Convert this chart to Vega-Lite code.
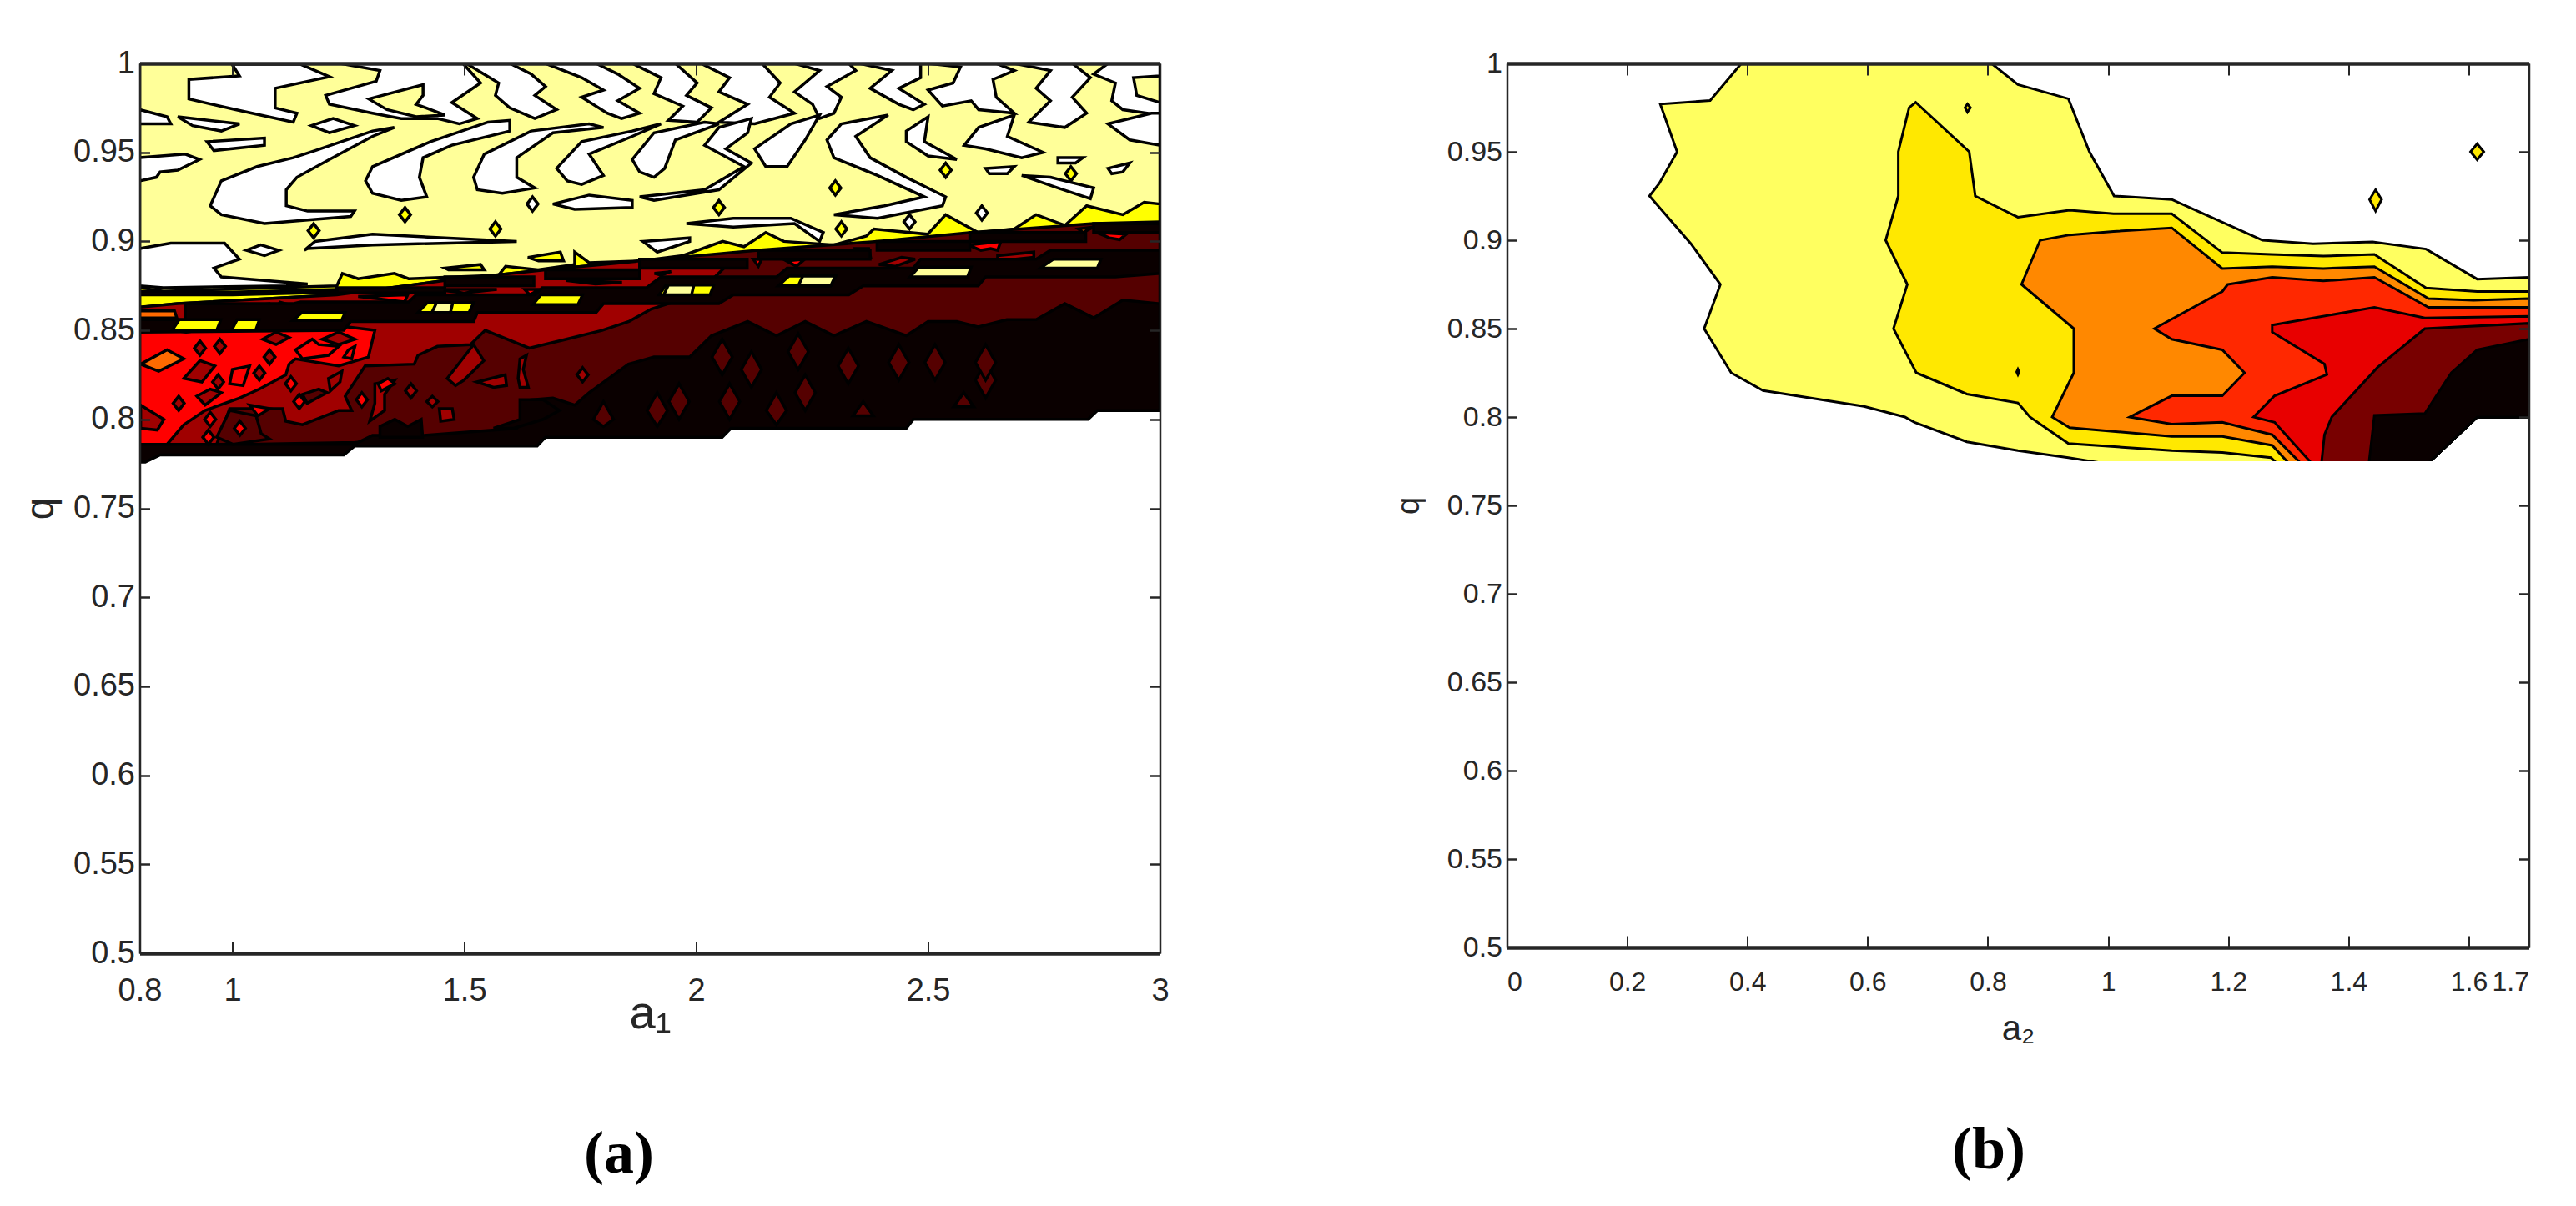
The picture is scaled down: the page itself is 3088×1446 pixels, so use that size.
{
"$schema":"https://vega.github.io/schema/vega-lite/v6.json",
"background":"white",
"padding":{"left":25.5,"top":57,"right":0,"bottom":20},
"spacing":268,
"resolve":{"scale":{"fill":"independent"}},
"config":{"view":{"stroke":null},"axis":{"grid":false,"domainColor":"#262626","tickColor":"#262626","labelColor":"#262626","titleColor":"#262626","labelFont":"Liberation Sans","titleFont":"Liberation Sans","titleFontWeight":"normal"},"title":{"font":"Liberation Serif","fontWeight":"bold","color":"#000000"}},
"datasets":{
"mask":[{"p":1,"a":0,"q":0.5},{"p":1,"a":1.7,"q":0.5},{"p":1,"a":1.7,"q":0.775},{"p":1,"a":0,"q":0.775}],
"pb":[
{"p":1,"l":1,"a":0.39,"q":1},{"p":1,"l":1,"a":0.338,"q":0.979},{"p":1,"l":1,"a":0.255,"q":0.977},{"p":1,"l":1,"a":0.283,"q":0.95},{"p":1,"l":1,"a":0.253,"q":0.932},{"p":1,"l":1,"a":0.237,"q":0.925},{"p":1,"l":1,"a":0.306,"q":0.898},{"p":1,"l":1,"a":0.355,"q":0.875},{"p":1,"l":1,"a":0.328,"q":0.85},{"p":1,"l":1,"a":0.373,"q":0.825},{"p":1,"l":1,"a":0.426,"q":0.815},{"p":1,"l":1,"a":0.594,"q":0.806},{"p":1,"l":1,"a":0.662,"q":0.8},{"p":1,"l":1,"a":0.678,"q":0.797},{"p":1,"l":1,"a":0.765,"q":0.786},{"p":1,"l":1,"a":0.85,"q":0.781},{"p":1,"l":1,"a":0.934,"q":0.777},{"p":1,"l":1,"a":0.99,"q":0.774},{"p":1,"l":1,"a":1.533,"q":0.774},{"p":1,"l":1,"a":1.614,"q":0.8},{"p":1,"l":1,"a":1.7,"q":0.8},{"p":1,"l":1,"a":1.7,"q":0.879},{"p":1,"l":1,"a":1.614,"q":0.878},{"p":1,"l":1,"a":1.529,"q":0.895},{"p":1,"l":1,"a":1.44,"q":0.899},{"p":1,"l":1,"a":1.341,"q":0.898},{"p":1,"l":1,"a":1.257,"q":0.9},{"p":1,"l":1,"a":1.106,"q":0.923},{"p":1,"l":1,"a":1.01,"q":0.925},{"p":1,"l":1,"a":0.969,"q":0.95},{"p":1,"l":1,"a":0.934,"q":0.98},{"p":1,"l":1,"a":0.85,"q":0.988},{"p":1,"l":1,"a":0.806,"q":1},
{"p":2,"l":2,"a":0.68,"q":0.978},{"p":2,"l":2,"a":0.669,"q":0.975},{"p":2,"l":2,"a":0.651,"q":0.95},{"p":2,"l":2,"a":0.651,"q":0.925},{"p":2,"l":2,"a":0.63,"q":0.9},{"p":2,"l":2,"a":0.666,"q":0.875},{"p":2,"l":2,"a":0.643,"q":0.85},{"p":2,"l":2,"a":0.681,"q":0.825},{"p":2,"l":2,"a":0.765,"q":0.813},{"p":2,"l":2,"a":0.85,"q":0.808},{"p":2,"l":2,"a":0.87,"q":0.8},{"p":2,"l":2,"a":0.934,"q":0.785},{"p":2,"l":2,"a":1.106,"q":0.781},{"p":2,"l":2,"a":1.19,"q":0.78},{"p":2,"l":2,"a":1.271,"q":0.777},{"p":2,"l":2,"a":1.28,"q":0.774},{"p":2,"l":2,"a":1.533,"q":0.774},{"p":2,"l":2,"a":1.614,"q":0.8},{"p":2,"l":2,"a":1.7,"q":0.8},{"p":2,"l":2,"a":1.7,"q":0.871},{"p":2,"l":2,"a":1.614,"q":0.871},{"p":2,"l":2,"a":1.529,"q":0.873},{"p":2,"l":2,"a":1.443,"q":0.892},{"p":2,"l":2,"a":1.358,"q":0.891},{"p":2,"l":2,"a":1.271,"q":0.892},{"p":2,"l":2,"a":1.19,"q":0.893},{"p":2,"l":2,"a":1.106,"q":0.915},{"p":2,"l":2,"a":1.009,"q":0.915},{"p":2,"l":2,"a":0.936,"q":0.917},{"p":2,"l":2,"a":0.85,"q":0.913},{"p":2,"l":2,"a":0.779,"q":0.925},{"p":2,"l":2,"a":0.769,"q":0.95},
{"p":3,"l":3,"a":0.887,"q":0.9},{"p":3,"l":3,"a":0.856,"q":0.875},{"p":3,"l":3,"a":0.943,"q":0.85},{"p":3,"l":3,"a":0.943,"q":0.825},{"p":3,"l":3,"a":0.907,"q":0.8},{"p":3,"l":3,"a":0.936,"q":0.794},{"p":3,"l":3,"a":1.106,"q":0.789},{"p":3,"l":3,"a":1.19,"q":0.789},{"p":3,"l":3,"a":1.273,"q":0.784},{"p":3,"l":3,"a":1.3,"q":0.774},{"p":3,"l":3,"a":1.533,"q":0.774},{"p":3,"l":3,"a":1.614,"q":0.8},{"p":3,"l":3,"a":1.7,"q":0.8},{"p":3,"l":3,"a":1.7,"q":0.867},{"p":3,"l":3,"a":1.608,"q":0.866},{"p":3,"l":3,"a":1.533,"q":0.867},{"p":3,"l":3,"a":1.443,"q":0.885},{"p":3,"l":3,"a":1.358,"q":0.884},{"p":3,"l":3,"a":1.273,"q":0.885},{"p":3,"l":3,"a":1.19,"q":0.884},{"p":3,"l":3,"a":1.106,"q":0.907},{"p":3,"l":3,"a":1.009,"q":0.905},{"p":3,"l":3,"a":0.936,"q":0.903},
{"p":4,"l":4,"a":1.199,"q":0.875},{"p":4,"l":4,"a":1.273,"q":0.879},{"p":4,"l":4,"a":1.358,"q":0.877},{"p":4,"l":4,"a":1.443,"q":0.879},{"p":4,"l":4,"a":1.533,"q":0.862},{"p":4,"l":4,"a":1.608,"q":0.862},{"p":4,"l":4,"a":1.7,"q":0.862},{"p":4,"l":4,"a":1.7,"q":0.8},{"p":4,"l":4,"a":1.614,"q":0.8},{"p":4,"l":4,"a":1.533,"q":0.774},{"p":4,"l":4,"a":1.32,"q":0.774},{"p":4,"l":4,"a":1.273,"q":0.79},{"p":4,"l":4,"a":1.19,"q":0.797},{"p":4,"l":4,"a":1.106,"q":0.796},{"p":4,"l":4,"a":1.036,"q":0.8},{"p":4,"l":4,"a":1.106,"q":0.812},{"p":4,"l":4,"a":1.19,"q":0.812},{"p":4,"l":4,"a":1.227,"q":0.825},{"p":4,"l":4,"a":1.19,"q":0.838},{"p":4,"l":4,"a":1.106,"q":0.844},{"p":4,"l":4,"a":1.077,"q":0.85},{"p":4,"l":4,"a":1.19,"q":0.871},
{"p":5,"l":5,"a":1.273,"q":0.852},{"p":5,"l":5,"a":1.443,"q":0.862},{"p":5,"l":5,"a":1.527,"q":0.856},{"p":5,"l":5,"a":1.7,"q":0.857},{"p":5,"l":5,"a":1.7,"q":0.8},{"p":5,"l":5,"a":1.614,"q":0.8},{"p":5,"l":5,"a":1.533,"q":0.774},{"p":5,"l":5,"a":1.338,"q":0.774},{"p":5,"l":5,"a":1.277,"q":0.797},{"p":5,"l":5,"a":1.242,"q":0.8},{"p":5,"l":5,"a":1.277,"q":0.812},{"p":5,"l":5,"a":1.364,"q":0.824},{"p":5,"l":5,"a":1.36,"q":0.83},{"p":5,"l":5,"a":1.273,"q":0.848},
{"p":6,"l":6,"a":1.527,"q":0.85},{"p":6,"l":6,"a":1.7,"q":0.853},{"p":6,"l":6,"a":1.7,"q":0.8},{"p":6,"l":6,"a":1.614,"q":0.8},{"p":6,"l":6,"a":1.533,"q":0.774},{"p":6,"l":6,"a":1.355,"q":0.774},{"p":6,"l":6,"a":1.36,"q":0.79},{"p":6,"l":6,"a":1.372,"q":0.8},{"p":6,"l":6,"a":1.448,"q":0.828},
{"p":7,"l":7,"a":1.7,"q":0.844},{"p":7,"l":7,"a":1.614,"q":0.838},{"p":7,"l":7,"a":1.571,"q":0.825},{"p":7,"l":7,"a":1.527,"q":0.802},{"p":7,"l":7,"a":1.443,"q":0.801},{"p":7,"l":7,"a":1.434,"q":0.774},{"p":7,"l":7,"a":1.533,"q":0.774},{"p":7,"l":7,"a":1.614,"q":0.8},{"p":7,"l":7,"a":1.7,"q":0.8},
{"p":8,"l":2,"a":1.603,"q":0.95},{"p":8,"l":2,"a":1.614,"q":0.9545},{"p":8,"l":2,"a":1.625,"q":0.95},{"p":8,"l":2,"a":1.614,"q":0.9455},
{"p":9,"l":2,"a":1.435,"q":0.923},{"p":9,"l":2,"a":1.445,"q":0.9285},{"p":9,"l":2,"a":1.455,"q":0.923},{"p":9,"l":2,"a":1.445,"q":0.9165},
{"p":10,"l":2,"a":0.762,"q":0.975},{"p":10,"l":2,"a":0.766,"q":0.977},{"p":10,"l":2,"a":0.771,"q":0.975},{"p":10,"l":2,"a":0.766,"q":0.9725},
{"p":11,"l":2,"a":0.848,"q":0.8255},{"p":11,"l":2,"a":0.85,"q":0.827},{"p":11,"l":2,"a":0.852,"q":0.8255},{"p":11,"l":2,"a":0.85,"q":0.824}
],
"pa":[
{"p":1,"l":2,"a":0.8,"q":0.84},{"p":1,"l":2,"a":3,"q":0.84},{"p":1,"l":2,"a":3,"q":1},{"p":1,"l":2,"a":0.8,"q":1},
{"p":2,"l":1,"a":0.999,"q":0.9995},{"p":2,"l":1,"a":1.147,"q":0.9995},{"p":2,"l":1,"a":1.209,"q":0.9925},{"p":2,"l":1,"a":1.092,"q":0.986},{"p":2,"l":1,"a":1.092,"q":0.975},{"p":2,"l":1,"a":1.139,"q":0.972},{"p":2,"l":1,"a":1.131,"q":0.967},{"p":2,"l":1,"a":1.007,"q":0.974},{"p":2,"l":1,"a":0.906,"q":0.98},{"p":2,"l":1,"a":0.906,"q":0.991},{"p":2,"l":1,"a":1.015,"q":0.993},
{"p":3,"l":1,"a":1.232,"q":1},{"p":3,"l":1,"a":1.318,"q":0.996},{"p":3,"l":1,"a":1.31,"q":0.99},{"p":3,"l":1,"a":1.201,"q":0.982},{"p":3,"l":1,"a":1.209,"q":0.977},{"p":3,"l":1,"a":1.302,"q":0.972},{"p":3,"l":1,"a":1.364,"q":0.969},{"p":3,"l":1,"a":1.442,"q":0.969},{"p":3,"l":1,"a":1.489,"q":0.966},{"p":3,"l":1,"a":1.528,"q":0.969},{"p":3,"l":1,"a":1.473,"q":0.978},{"p":3,"l":1,"a":1.535,"q":0.989},{"p":3,"l":1,"a":1.497,"q":1},
{"p":4,"l":2,"a":1.294,"q":0.98},{"p":4,"l":2,"a":1.411,"q":0.988},{"p":4,"l":2,"a":1.411,"q":0.982},{"p":4,"l":2,"a":1.396,"q":0.977},{"p":4,"l":2,"a":1.458,"q":0.971},{"p":4,"l":2,"a":1.396,"q":0.97},{"p":4,"l":2,"a":1.333,"q":0.974},
{"p":5,"l":1,"a":1.504,"q":1},{"p":5,"l":1,"a":1.574,"q":0.989},{"p":5,"l":1,"a":1.567,"q":0.982},{"p":5,"l":1,"a":1.598,"q":0.975},{"p":5,"l":1,"a":1.652,"q":0.969},{"p":5,"l":1,"a":1.699,"q":0.974},{"p":5,"l":1,"a":1.652,"q":0.982},{"p":5,"l":1,"a":1.675,"q":0.987},{"p":5,"l":1,"a":1.644,"q":0.994},{"p":5,"l":1,"a":1.598,"q":1},
{"p":6,"l":1,"a":1.675,"q":1},{"p":6,"l":1,"a":1.753,"q":0.992},{"p":6,"l":1,"a":1.8,"q":0.985},{"p":6,"l":1,"a":1.753,"q":0.981},{"p":6,"l":1,"a":1.808,"q":0.972},{"p":6,"l":1,"a":1.839,"q":0.969},{"p":6,"l":1,"a":1.878,"q":0.972},{"p":6,"l":1,"a":1.831,"q":0.979},{"p":6,"l":1,"a":1.878,"q":0.986},{"p":6,"l":1,"a":1.831,"q":0.994},{"p":6,"l":1,"a":1.784,"q":1},
{"p":7,"l":1,"a":1.862,"q":1},{"p":7,"l":1,"a":1.924,"q":0.992},{"p":7,"l":1,"a":1.909,"q":0.983},{"p":7,"l":1,"a":1.971,"q":0.976},{"p":7,"l":1,"a":1.94,"q":0.968},{"p":7,"l":1,"a":2.002,"q":0.967},{"p":7,"l":1,"a":2.033,"q":0.975},{"p":7,"l":1,"a":1.979,"q":0.982},{"p":7,"l":1,"a":2.002,"q":0.989},{"p":7,"l":1,"a":1.955,"q":1},
{"p":8,"l":1,"a":2.01,"q":1},{"p":8,"l":1,"a":2.072,"q":0.992},{"p":8,"l":1,"a":2.049,"q":0.984},{"p":8,"l":1,"a":2.111,"q":0.977},{"p":8,"l":1,"a":2.049,"q":0.967},{"p":8,"l":1,"a":2.126,"q":0.966},{"p":8,"l":1,"a":2.212,"q":0.972},{"p":8,"l":1,"a":2.158,"q":0.981},{"p":8,"l":1,"a":2.181,"q":0.989},{"p":8,"l":1,"a":2.142,"q":1},
{"p":9,"l":1,"a":2.212,"q":1},{"p":9,"l":1,"a":2.266,"q":0.996},{"p":9,"l":1,"a":2.212,"q":0.984},{"p":9,"l":1,"a":2.251,"q":0.977},{"p":9,"l":1,"a":2.266,"q":0.969},{"p":9,"l":1,"a":2.297,"q":0.972},{"p":9,"l":1,"a":2.313,"q":0.981},{"p":9,"l":1,"a":2.282,"q":0.987},{"p":9,"l":1,"a":2.344,"q":0.996},{"p":9,"l":1,"a":2.329,"q":1},
{"p":10,"l":1,"a":2.352,"q":1},{"p":10,"l":1,"a":2.422,"q":0.996},{"p":10,"l":1,"a":2.375,"q":0.986},{"p":10,"l":1,"a":2.437,"q":0.977},{"p":10,"l":1,"a":2.468,"q":0.974},{"p":10,"l":1,"a":2.492,"q":0.977},{"p":10,"l":1,"a":2.437,"q":0.986},{"p":10,"l":1,"a":2.484,"q":0.992},{"p":10,"l":1,"a":2.484,"q":1},
{"p":11,"l":1,"a":2.5,"q":1},{"p":11,"l":1,"a":2.57,"q":0.998},{"p":11,"l":1,"a":2.554,"q":0.989},{"p":11,"l":1,"a":2.5,"q":0.985},{"p":11,"l":1,"a":2.531,"q":0.976},{"p":11,"l":1,"a":2.593,"q":0.979},{"p":11,"l":1,"a":2.609,"q":0.974},{"p":11,"l":1,"a":2.686,"q":0.972},{"p":11,"l":1,"a":2.647,"q":0.981},{"p":11,"l":1,"a":2.64,"q":0.991},{"p":11,"l":1,"a":2.686,"q":0.996},{"p":11,"l":1,"a":2.647,"q":1},
{"p":12,"l":1,"a":2.686,"q":1},{"p":12,"l":1,"a":2.764,"q":0.996},{"p":12,"l":1,"a":2.733,"q":0.986},{"p":12,"l":1,"a":2.764,"q":0.979},{"p":12,"l":1,"a":2.717,"q":0.967},{"p":12,"l":1,"a":2.795,"q":0.964},{"p":12,"l":1,"a":2.842,"q":0.972},{"p":12,"l":1,"a":2.811,"q":0.981},{"p":12,"l":1,"a":2.85,"q":0.992},{"p":12,"l":1,"a":2.811,"q":1},
{"p":13,"l":1,"a":2.888,"q":1},{"p":13,"l":1,"a":2.857,"q":0.994},{"p":13,"l":1,"a":2.904,"q":0.989},{"p":13,"l":1,"a":2.896,"q":0.979},{"p":13,"l":1,"a":2.92,"q":0.974},{"p":13,"l":1,"a":3,"q":0.971},{"p":13,"l":1,"a":3,"q":0.978},{"p":13,"l":1,"a":2.95,"q":0.982},{"p":13,"l":1,"a":2.943,"q":0.992},{"p":13,"l":1,"a":3,"q":0.993},{"p":13,"l":1,"a":3,"q":1},
{"p":14,"l":1,"a":0.952,"q":0.92},{"p":14,"l":1,"a":0.976,"q":0.934},{"p":14,"l":1,"a":1.053,"q":0.942},{"p":14,"l":1,"a":1.131,"q":0.947},{"p":14,"l":1,"a":1.178,"q":0.951},{"p":14,"l":1,"a":1.302,"q":0.962},{"p":14,"l":1,"a":1.349,"q":0.964},{"p":14,"l":1,"a":1.302,"q":0.959},{"p":14,"l":1,"a":1.209,"q":0.946},{"p":14,"l":1,"a":1.139,"q":0.936},{"p":14,"l":1,"a":1.116,"q":0.929},{"p":14,"l":1,"a":1.116,"q":0.92},{"p":14,"l":1,"a":1.162,"q":0.917},{"p":14,"l":1,"a":1.263,"q":0.917},{"p":14,"l":1,"a":1.255,"q":0.914},{"p":14,"l":1,"a":1.069,"q":0.91},{"p":14,"l":1,"a":0.976,"q":0.915},
{"p":15,"l":1,"a":1.287,"q":0.934},{"p":15,"l":1,"a":1.302,"q":0.942},{"p":15,"l":1,"a":1.427,"q":0.956},{"p":15,"l":1,"a":1.551,"q":0.967},{"p":15,"l":1,"a":1.598,"q":0.968},{"p":15,"l":1,"a":1.598,"q":0.962},{"p":15,"l":1,"a":1.473,"q":0.954},{"p":15,"l":1,"a":1.411,"q":0.947},{"p":15,"l":1,"a":1.403,"q":0.936},{"p":15,"l":1,"a":1.419,"q":0.925},{"p":15,"l":1,"a":1.364,"q":0.923},{"p":15,"l":1,"a":1.302,"q":0.927},
{"p":16,"l":1,"a":1.52,"q":0.936},{"p":16,"l":1,"a":1.543,"q":0.949},{"p":16,"l":1,"a":1.644,"q":0.962},{"p":16,"l":1,"a":1.769,"q":0.966},{"p":16,"l":1,"a":1.8,"q":0.964},{"p":16,"l":1,"a":1.691,"q":0.961},{"p":16,"l":1,"a":1.613,"q":0.947},{"p":16,"l":1,"a":1.613,"q":0.936},{"p":16,"l":1,"a":1.652,"q":0.93},{"p":16,"l":1,"a":1.582,"q":0.927},{"p":16,"l":1,"a":1.528,"q":0.929},
{"p":17,"l":1,"a":1.699,"q":0.941},{"p":17,"l":1,"a":1.753,"q":0.956},{"p":17,"l":1,"a":1.862,"q":0.962},{"p":17,"l":1,"a":1.924,"q":0.966},{"p":17,"l":1,"a":1.862,"q":0.959},{"p":17,"l":1,"a":1.769,"q":0.949},{"p":17,"l":1,"a":1.8,"q":0.937},{"p":17,"l":1,"a":1.753,"q":0.932},{"p":17,"l":1,"a":1.722,"q":0.934},
{"p":18,"l":1,"a":1.862,"q":0.946},{"p":18,"l":1,"a":1.909,"q":0.961},{"p":18,"l":1,"a":2.018,"q":0.967},{"p":18,"l":1,"a":2.049,"q":0.966},{"p":18,"l":1,"a":1.955,"q":0.957},{"p":18,"l":1,"a":1.932,"q":0.941},{"p":18,"l":1,"a":1.909,"q":0.936},{"p":18,"l":1,"a":1.878,"q":0.939},
{"p":19,"l":1,"a":1.878,"q":0.925},{"p":19,"l":1,"a":2.018,"q":0.929},{"p":19,"l":1,"a":2.103,"q":0.942},{"p":19,"l":1,"a":2.018,"q":0.954},{"p":19,"l":1,"a":2.049,"q":0.964},{"p":19,"l":1,"a":2.119,"q":0.969},{"p":19,"l":1,"a":2.111,"q":0.961},{"p":19,"l":1,"a":2.064,"q":0.952},{"p":19,"l":1,"a":2.119,"q":0.944},{"p":19,"l":1,"a":2.049,"q":0.929},{"p":19,"l":1,"a":1.909,"q":0.923},
{"p":20,"l":1,"a":2.126,"q":0.952},{"p":20,"l":1,"a":2.204,"q":0.966},{"p":20,"l":1,"a":2.266,"q":0.971},{"p":20,"l":1,"a":2.235,"q":0.957},{"p":20,"l":1,"a":2.196,"q":0.942},{"p":20,"l":1,"a":2.15,"q":0.942},
{"p":21,"l":1,"a":2.282,"q":0.957},{"p":21,"l":1,"a":2.313,"q":0.966},{"p":21,"l":1,"a":2.414,"q":0.971},{"p":21,"l":1,"a":2.344,"q":0.959},{"p":21,"l":1,"a":2.375,"q":0.947},{"p":21,"l":1,"a":2.453,"q":0.936},{"p":21,"l":1,"a":2.538,"q":0.925},{"p":21,"l":1,"a":2.531,"q":0.92},{"p":21,"l":1,"a":2.391,"q":0.913},{"p":21,"l":1,"a":2.297,"q":0.915},{"p":21,"l":1,"a":2.406,"q":0.92},{"p":21,"l":1,"a":2.492,"q":0.925},{"p":21,"l":1,"a":2.391,"q":0.937},{"p":21,"l":1,"a":2.297,"q":0.947},
{"p":22,"l":1,"a":2.453,"q":0.962},{"p":22,"l":1,"a":2.5,"q":0.97},{"p":22,"l":1,"a":2.492,"q":0.956},{"p":22,"l":1,"a":2.562,"q":0.946},{"p":22,"l":1,"a":2.5,"q":0.948},{"p":22,"l":1,"a":2.453,"q":0.956},
{"p":23,"l":1,"a":2.578,"q":0.954},{"p":23,"l":1,"a":2.609,"q":0.964},{"p":23,"l":1,"a":2.686,"q":0.971},{"p":23,"l":1,"a":2.671,"q":0.959},{"p":23,"l":1,"a":2.748,"q":0.95},{"p":23,"l":1,"a":2.702,"q":0.947},{"p":23,"l":1,"a":2.624,"q":0.952},
{"p":24,"l":1,"a":2.888,"q":0.966},{"p":24,"l":1,"a":2.982,"q":0.972},{"p":24,"l":1,"a":3,"q":0.972},{"p":24,"l":1,"a":3,"q":0.954},{"p":24,"l":1,"a":2.935,"q":0.957},
{"p":25,"l":1,"a":1.155,"q":0.895},{"p":25,"l":1,"a":1.178,"q":0.9},{"p":25,"l":1,"a":1.302,"q":0.904},{"p":25,"l":1,"a":1.613,"q":0.9},{"p":25,"l":1,"a":1.302,"q":0.898},{"p":25,"l":1,"a":1.162,"q":0.896},
{"p":26,"l":1,"a":0.8,"q":0.896},{"p":26,"l":1,"a":0.867,"q":0.899},{"p":26,"l":1,"a":0.983,"q":0.899},{"p":26,"l":1,"a":1.015,"q":0.89},{"p":26,"l":1,"a":0.96,"q":0.885},{"p":26,"l":1,"a":0.976,"q":0.88},{"p":26,"l":1,"a":1.162,"q":0.876},{"p":26,"l":1,"a":1.116,"q":0.875},{"p":26,"l":1,"a":0.851,"q":0.874},{"p":26,"l":1,"a":0.8,"q":0.875},
{"p":27,"l":1,"a":0.8,"q":0.974},{"p":27,"l":1,"a":0.859,"q":0.97},{"p":27,"l":1,"a":0.867,"q":0.966},{"p":27,"l":1,"a":0.8,"q":0.966},
{"p":28,"l":1,"a":0.8,"q":0.947},{"p":28,"l":1,"a":0.898,"q":0.949},{"p":28,"l":1,"a":0.929,"q":0.946},{"p":28,"l":1,"a":0.882,"q":0.94},{"p":28,"l":1,"a":0.844,"q":0.939},{"p":28,"l":1,"a":0.836,"q":0.936},{"p":28,"l":1,"a":0.8,"q":0.934},
{"p":29,"l":1,"a":0.882,"q":0.97},{"p":29,"l":1,"a":1.015,"q":0.966},{"p":29,"l":1,"a":0.976,"q":0.962},{"p":29,"l":1,"a":0.914,"q":0.965},
{"p":30,"l":1,"a":1.17,"q":0.965},{"p":30,"l":1,"a":1.217,"q":0.969},{"p":30,"l":1,"a":1.263,"q":0.965},{"p":30,"l":1,"a":1.209,"q":0.961},
{"p":31,"l":1,"a":0.945,"q":0.956},{"p":31,"l":1,"a":1.069,"q":0.958},{"p":31,"l":1,"a":1.069,"q":0.954},{"p":31,"l":1,"a":0.96,"q":0.951},
{"p":32,"l":1,"a":1.885,"q":0.9},{"p":32,"l":1,"a":1.986,"q":0.902},{"p":32,"l":1,"a":1.986,"q":0.9},{"p":32,"l":1,"a":1.916,"q":0.894},
{"p":33,"l":1,"a":1.979,"q":0.91},{"p":33,"l":1,"a":2.08,"q":0.913},{"p":33,"l":1,"a":2.204,"q":0.913},{"p":33,"l":1,"a":2.274,"q":0.905},{"p":33,"l":1,"a":2.266,"q":0.9},{"p":33,"l":1,"a":2.212,"q":0.91},{"p":33,"l":1,"a":2.08,"q":0.908},
{"p":34,"l":1,"a":1.691,"q":0.921},{"p":34,"l":1,"a":1.769,"q":0.926},{"p":34,"l":1,"a":1.862,"q":0.923},{"p":34,"l":1,"a":1.862,"q":0.919},{"p":34,"l":1,"a":1.738,"q":0.918},
{"p":35,"l":1,"a":2.702,"q":0.937},{"p":35,"l":1,"a":2.764,"q":0.936},{"p":35,"l":1,"a":2.857,"q":0.93},{"p":35,"l":1,"a":2.85,"q":0.924},{"p":35,"l":1,"a":2.78,"q":0.93},
{"p":36,"l":1,"a":2.888,"q":0.941},{"p":36,"l":1,"a":2.935,"q":0.944},{"p":36,"l":1,"a":2.92,"q":0.939},{"p":36,"l":1,"a":2.896,"q":0.938},
{"p":37,"l":1,"a":2.624,"q":0.941},{"p":37,"l":1,"a":2.686,"q":0.942},{"p":37,"l":1,"a":2.671,"q":0.938},{"p":37,"l":1,"a":2.632,"q":0.938},
{"p":38,"l":1,"a":2.78,"q":0.947},{"p":38,"l":1,"a":2.834,"q":0.947},{"p":38,"l":1,"a":2.818,"q":0.944},{"p":38,"l":1,"a":2.78,"q":0.944},
{"p":39,"l":1,"a":1.03,"q":0.895},{"p":39,"l":1,"a":1.061,"q":0.898},{"p":39,"l":1,"a":1.1,"q":0.895},{"p":39,"l":1,"a":1.069,"q":0.892},
{"p":40,"l":3,"a":1.637,"q":0.891},{"p":40,"l":3,"a":1.707,"q":0.894},{"p":40,"l":3,"a":1.714,"q":0.889},{"p":40,"l":3,"a":1.66,"q":0.889},
{"p":41,"l":3,"a":1.458,"q":0.885},{"p":41,"l":3,"a":1.535,"q":0.887},{"p":41,"l":3,"a":1.543,"q":0.884},{"p":41,"l":3,"a":1.466,"q":0.884},
{"p":42,"l":3,"a":1.36,"q":0.915},{"p":42,"l":3,"a":1.372,"q":0.919},{"p":42,"l":3,"a":1.384,"q":0.915},{"p":42,"l":3,"a":1.372,"q":0.911},
{"p":43,"l":3,"a":1.163,"q":0.906},{"p":43,"l":3,"a":1.175,"q":0.91},{"p":43,"l":3,"a":1.187,"q":0.906},{"p":43,"l":3,"a":1.175,"q":0.902},
{"p":44,"l":3,"a":1.555,"q":0.907},{"p":44,"l":3,"a":1.567,"q":0.911},{"p":44,"l":3,"a":1.579,"q":0.907},{"p":44,"l":3,"a":1.567,"q":0.903},
{"p":45,"l":3,"a":2.037,"q":0.919},{"p":45,"l":3,"a":2.049,"q":0.923},{"p":45,"l":3,"a":2.061,"q":0.919},{"p":45,"l":3,"a":2.049,"q":0.915},
{"p":46,"l":3,"a":2.526,"q":0.94},{"p":46,"l":3,"a":2.538,"q":0.944},{"p":46,"l":3,"a":2.55,"q":0.94},{"p":46,"l":3,"a":2.538,"q":0.936},
{"p":47,"l":3,"a":2.288,"q":0.93},{"p":47,"l":3,"a":2.3,"q":0.934},{"p":47,"l":3,"a":2.312,"q":0.93},{"p":47,"l":3,"a":2.3,"q":0.926},
{"p":48,"l":3,"a":2.796,"q":0.938},{"p":48,"l":3,"a":2.808,"q":0.942},{"p":48,"l":3,"a":2.82,"q":0.938},{"p":48,"l":3,"a":2.808,"q":0.934},
{"p":49,"l":3,"a":2.301,"q":0.907},{"p":49,"l":3,"a":2.313,"q":0.911},{"p":49,"l":3,"a":2.325,"q":0.907},{"p":49,"l":3,"a":2.313,"q":0.903},
{"p":50,"l":1,"a":1.635,"q":0.921},{"p":50,"l":1,"a":1.647,"q":0.925},{"p":50,"l":1,"a":1.659,"q":0.921},{"p":50,"l":1,"a":1.647,"q":0.917},
{"p":51,"l":1,"a":2.448,"q":0.911},{"p":51,"l":1,"a":2.46,"q":0.915},{"p":51,"l":1,"a":2.472,"q":0.911},{"p":51,"l":1,"a":2.46,"q":0.907},
{"p":52,"l":1,"a":2.604,"q":0.916},{"p":52,"l":1,"a":2.616,"q":0.92},{"p":52,"l":1,"a":2.628,"q":0.916},{"p":52,"l":1,"a":2.616,"q":0.912},
{"p":53,"l":3,"a":0.8,"q":0.874},{"p":53,"l":3,"a":0.851,"q":0.872},{"p":53,"l":3,"a":1.225,"q":0.875},{"p":53,"l":3,"a":1.237,"q":0.882},{"p":53,"l":3,"a":1.271,"q":0.879},{"p":53,"l":3,"a":1.349,"q":0.882},{"p":53,"l":3,"a":1.38,"q":0.879},{"p":53,"l":3,"a":1.574,"q":0.881},{"p":53,"l":3,"a":1.589,"q":0.886},{"p":53,"l":3,"a":1.659,"q":0.884},{"p":53,"l":3,"a":1.738,"q":0.887},{"p":53,"l":3,"a":1.738,"q":0.894},{"p":53,"l":3,"a":1.769,"q":0.888},{"p":53,"l":3,"a":1.878,"q":0.889},{"p":53,"l":3,"a":1.971,"q":0.892},{"p":53,"l":3,"a":2.057,"q":0.9},{"p":53,"l":3,"a":2.103,"q":0.897},{"p":53,"l":3,"a":2.15,"q":0.905},{"p":53,"l":3,"a":2.189,"q":0.9},{"p":53,"l":3,"a":2.297,"q":0.898},{"p":53,"l":3,"a":2.367,"q":0.903},{"p":53,"l":3,"a":2.383,"q":0.907},{"p":53,"l":3,"a":2.499,"q":0.904},{"p":53,"l":3,"a":2.538,"q":0.915},{"p":53,"l":3,"a":2.608,"q":0.905},{"p":53,"l":3,"a":2.686,"q":0.907},{"p":53,"l":3,"a":2.733,"q":0.915},{"p":53,"l":3,"a":2.795,"q":0.909},{"p":53,"l":3,"a":2.842,"q":0.92},{"p":53,"l":3,"a":2.92,"q":0.915},{"p":53,"l":3,"a":2.966,"q":0.922},{"p":53,"l":3,"a":3,"q":0.921},{"p":53,"l":3,"a":3,"q":0.863},{"p":53,"l":3,"a":0.8,"q":0.847},
{"p":54,"l":7,"a":0.8,"q":0.863},{"p":54,"l":7,"a":0.882,"q":0.865},{"p":54,"l":7,"a":1.225,"q":0.87},{"p":54,"l":7,"a":1.458,"q":0.878},{"p":54,"l":7,"a":1.675,"q":0.884},{"p":54,"l":7,"a":1.878,"q":0.889},{"p":54,"l":7,"a":2.134,"q":0.895},{"p":54,"l":7,"a":2.391,"q":0.9},{"p":54,"l":7,"a":2.593,"q":0.905},{"p":54,"l":7,"a":2.857,"q":0.91},{"p":54,"l":7,"a":3,"q":0.911},{"p":54,"l":7,"a":3,"q":0.806},{"p":54,"l":7,"a":2.468,"q":0.802},{"p":54,"l":7,"a":2.075,"q":0.797},{"p":54,"l":7,"a":1.675,"q":0.792},{"p":54,"l":7,"a":1.263,"q":0.787},{"p":54,"l":7,"a":0.8,"q":0.785},
{"p":55,"l":6,"a":0.8,"q":0.782},{"p":55,"l":6,"a":0.966,"q":0.786},{"p":55,"l":6,"a":0.994,"q":0.806},{"p":55,"l":6,"a":1.108,"q":0.806},{"p":55,"l":6,"a":1.115,"q":0.799},{"p":55,"l":6,"a":1.151,"q":0.797},{"p":55,"l":6,"a":1.229,"q":0.805},{"p":55,"l":6,"a":1.257,"q":0.805},{"p":55,"l":6,"a":1.243,"q":0.813},{"p":55,"l":6,"a":1.286,"q":0.83},{"p":55,"l":6,"a":1.392,"q":0.831},{"p":55,"l":6,"a":1.4,"q":0.836},{"p":55,"l":6,"a":1.442,"q":0.841},{"p":55,"l":6,"a":1.513,"q":0.842},{"p":55,"l":6,"a":1.545,"q":0.85},{"p":55,"l":6,"a":1.64,"q":0.84},{"p":55,"l":6,"a":1.72,"q":0.845},{"p":55,"l":6,"a":1.797,"q":0.85},{"p":55,"l":6,"a":1.855,"q":0.855},{"p":55,"l":6,"a":1.903,"q":0.862},{"p":55,"l":6,"a":2,"q":0.87},{"p":55,"l":6,"a":2.06,"q":0.885},{"p":55,"l":6,"a":1.878,"q":0.889},{"p":55,"l":6,"a":1.675,"q":0.884},{"p":55,"l":6,"a":1.458,"q":0.878},{"p":55,"l":6,"a":1.225,"q":0.87},{"p":55,"l":6,"a":0.882,"q":0.865},{"p":55,"l":6,"a":0.8,"q":0.863},
{"p":56,"l":5,"a":0.8,"q":0.78},{"p":56,"l":5,"a":0.859,"q":0.786},{"p":56,"l":5,"a":0.895,"q":0.797},{"p":56,"l":5,"a":0.941,"q":0.805},{"p":56,"l":5,"a":1.016,"q":0.812},{"p":56,"l":5,"a":1.058,"q":0.817},{"p":56,"l":5,"a":1.115,"q":0.825},{"p":56,"l":5,"a":1.122,"q":0.831},{"p":56,"l":5,"a":1.136,"q":0.834},{"p":56,"l":5,"a":1.229,"q":0.83},{"p":56,"l":5,"a":1.293,"q":0.835},{"p":56,"l":5,"a":1.307,"q":0.85},{"p":56,"l":5,"a":1.215,"q":0.853},{"p":56,"l":5,"a":1.1,"q":0.85},{"p":56,"l":5,"a":1,"q":0.853},{"p":56,"l":5,"a":0.9,"q":0.849},{"p":56,"l":5,"a":0.8,"q":0.853},
{"p":57,"l":8,"a":0.8,"q":0.776},{"p":57,"l":8,"a":0.8,"q":0.786},{"p":57,"l":8,"a":1.263,"q":0.786},{"p":57,"l":8,"a":1.302,"q":0.791},{"p":57,"l":8,"a":1.411,"q":0.791},{"p":57,"l":8,"a":1.613,"q":0.795},{"p":57,"l":8,"a":1.644,"q":0.811},{"p":57,"l":8,"a":1.691,"q":0.812},{"p":57,"l":8,"a":1.738,"q":0.808},{"p":57,"l":8,"a":1.769,"q":0.815},{"p":57,"l":8,"a":1.854,"q":0.831},{"p":57,"l":8,"a":1.909,"q":0.835},{"p":57,"l":8,"a":1.986,"q":0.835},{"p":57,"l":8,"a":2.033,"q":0.847},{"p":57,"l":8,"a":2.111,"q":0.855},{"p":57,"l":8,"a":2.173,"q":0.847},{"p":57,"l":8,"a":2.235,"q":0.855},{"p":57,"l":8,"a":2.297,"q":0.847},{"p":57,"l":8,"a":2.367,"q":0.855},{"p":57,"l":8,"a":2.453,"q":0.847},{"p":57,"l":8,"a":2.5,"q":0.855},{"p":57,"l":8,"a":2.562,"q":0.855},{"p":57,"l":8,"a":2.608,"q":0.852},{"p":57,"l":8,"a":2.67,"q":0.856},{"p":57,"l":8,"a":2.733,"q":0.856},{"p":57,"l":8,"a":2.795,"q":0.865},{"p":57,"l":8,"a":2.857,"q":0.857},{"p":57,"l":8,"a":2.92,"q":0.867},{"p":57,"l":8,"a":3,"q":0.865},{"p":57,"l":8,"a":3,"q":0.805},{"p":57,"l":8,"a":2.865,"q":0.805},{"p":57,"l":8,"a":2.845,"q":0.8},{"p":57,"l":8,"a":2.468,"q":0.8},{"p":57,"l":8,"a":2.453,"q":0.795},{"p":57,"l":8,"a":2.075,"q":0.795},{"p":57,"l":8,"a":2.056,"q":0.79},{"p":57,"l":8,"a":1.675,"q":0.79},{"p":57,"l":8,"a":1.657,"q":0.785},{"p":57,"l":8,"a":1.263,"q":0.785},{"p":57,"l":8,"a":1.24,"q":0.78},{"p":57,"l":8,"a":0.844,"q":0.78},{"p":57,"l":8,"a":0.812,"q":0.776},
{"p":58,"l":7,"a":2.097,"q":0.828},{"p":58,"l":7,"a":2.119,"q":0.838},{"p":58,"l":7,"a":2.141,"q":0.828},{"p":58,"l":7,"a":2.119,"q":0.818},
{"p":59,"l":7,"a":2.213,"q":0.815},{"p":59,"l":7,"a":2.235,"q":0.825},{"p":59,"l":7,"a":2.257,"q":0.815},{"p":59,"l":7,"a":2.235,"q":0.805},
{"p":60,"l":7,"a":2.306,"q":0.83},{"p":60,"l":7,"a":2.328,"q":0.84},{"p":60,"l":7,"a":2.35,"q":0.83},{"p":60,"l":7,"a":2.328,"q":0.82},
{"p":61,"l":7,"a":2.415,"q":0.832},{"p":61,"l":7,"a":2.437,"q":0.842},{"p":61,"l":7,"a":2.459,"q":0.832},{"p":61,"l":7,"a":2.437,"q":0.822},
{"p":62,"l":7,"a":2.602,"q":0.822},{"p":62,"l":7,"a":2.624,"q":0.832},{"p":62,"l":7,"a":2.646,"q":0.822},{"p":62,"l":7,"a":2.624,"q":0.812},
{"p":63,"l":7,"a":2.555,"q":0.807},{"p":63,"l":7,"a":2.577,"q":0.815},{"p":63,"l":7,"a":2.599,"q":0.807},
{"p":64,"l":7,"a":2.338,"q":0.802},{"p":64,"l":7,"a":2.36,"q":0.81},{"p":64,"l":7,"a":2.382,"q":0.802},
{"p":65,"l":7,"a":2.151,"q":0.805},{"p":65,"l":7,"a":2.173,"q":0.815},{"p":65,"l":7,"a":2.195,"q":0.805},{"p":65,"l":7,"a":2.173,"q":0.797},
{"p":66,"l":7,"a":2.05,"q":0.81},{"p":66,"l":7,"a":2.072,"q":0.82},{"p":66,"l":7,"a":2.094,"q":0.81},{"p":66,"l":7,"a":2.072,"q":0.8},
{"p":67,"l":7,"a":1.941,"q":0.81},{"p":67,"l":7,"a":1.963,"q":0.82},{"p":67,"l":7,"a":1.985,"q":0.81},{"p":67,"l":7,"a":1.963,"q":0.8},
{"p":68,"l":7,"a":1.894,"q":0.805},{"p":68,"l":7,"a":1.916,"q":0.815},{"p":68,"l":7,"a":1.938,"q":0.805},{"p":68,"l":7,"a":1.916,"q":0.796},
{"p":69,"l":7,"a":1.778,"q":0.8},{"p":69,"l":7,"a":1.8,"q":0.81},{"p":69,"l":7,"a":1.822,"q":0.8},{"p":69,"l":7,"a":1.8,"q":0.796},
{"p":70,"l":7,"a":2.602,"q":0.832},{"p":70,"l":7,"a":2.624,"q":0.842},{"p":70,"l":7,"a":2.646,"q":0.832},{"p":70,"l":7,"a":2.624,"q":0.822},
{"p":71,"l":7,"a":2.493,"q":0.832},{"p":71,"l":7,"a":2.515,"q":0.842},{"p":71,"l":7,"a":2.537,"q":0.832},{"p":71,"l":7,"a":2.515,"q":0.822},
{"p":72,"l":7,"a":2.198,"q":0.838},{"p":72,"l":7,"a":2.22,"q":0.848},{"p":72,"l":7,"a":2.242,"q":0.838},{"p":72,"l":7,"a":2.22,"q":0.828},
{"p":73,"l":7,"a":2.034,"q":0.835},{"p":73,"l":7,"a":2.056,"q":0.845},{"p":73,"l":7,"a":2.078,"q":0.835},{"p":73,"l":7,"a":2.056,"q":0.825},
{"p":74,"l":6,"a":0.895,"q":0.823},{"p":74,"l":6,"a":0.93,"q":0.833},{"p":74,"l":6,"a":0.962,"q":0.83},{"p":74,"l":6,"a":0.934,"q":0.821},
{"p":75,"l":6,"a":0.923,"q":0.813},{"p":75,"l":6,"a":0.952,"q":0.817},{"p":75,"l":6,"a":0.976,"q":0.815},{"p":75,"l":6,"a":0.941,"q":0.808},
{"p":76,"l":5,"a":1,"q":0.828},{"p":76,"l":5,"a":1.037,"q":0.83},{"p":76,"l":5,"a":1.023,"q":0.819},{"p":76,"l":5,"a":0.994,"q":0.82},
{"p":77,"l":5,"a":1.136,"q":0.839},{"p":77,"l":5,"a":1.172,"q":0.845},{"p":77,"l":5,"a":1.186,"q":0.842},{"p":77,"l":5,"a":1.229,"q":0.841},{"p":77,"l":5,"a":1.207,"q":0.836},{"p":77,"l":5,"a":1.151,"q":0.834},
{"p":78,"l":5,"a":1.25,"q":0.839},{"p":78,"l":5,"a":1.264,"q":0.841},{"p":78,"l":5,"a":1.257,"q":0.834},{"p":78,"l":5,"a":1.24,"q":0.835},
{"p":79,"l":6,"a":1.207,"q":0.823},{"p":79,"l":6,"a":1.236,"q":0.827},{"p":79,"l":6,"a":1.232,"q":0.821},{"p":79,"l":6,"a":1.211,"q":0.816},
{"p":80,"l":7,"a":1.151,"q":0.814},{"p":80,"l":7,"a":1.186,"q":0.817},{"p":80,"l":7,"a":1.204,"q":0.815},{"p":80,"l":7,"a":1.161,"q":0.809},
{"p":81,"l":6,"a":1.307,"q":0.82},{"p":81,"l":6,"a":1.35,"q":0.822},{"p":81,"l":6,"a":1.328,"q":0.814},{"p":81,"l":6,"a":1.328,"q":0.805},{"p":81,"l":6,"a":1.296,"q":0.799},{"p":81,"l":6,"a":1.307,"q":0.809},
{"p":82,"l":5,"a":1.314,"q":0.82},{"p":82,"l":5,"a":1.335,"q":0.823},{"p":82,"l":5,"a":1.35,"q":0.82},{"p":82,"l":5,"a":1.321,"q":0.816},
{"p":83,"l":6,"a":1.446,"q":0.806},{"p":83,"l":6,"a":1.474,"q":0.806},{"p":83,"l":6,"a":1.478,"q":0.8},{"p":83,"l":6,"a":1.449,"q":0.799},
{"p":84,"l":6,"a":1.463,"q":0.823},{"p":84,"l":6,"a":1.52,"q":0.842},{"p":84,"l":6,"a":1.542,"q":0.833},{"p":84,"l":6,"a":1.499,"q":0.822},{"p":84,"l":6,"a":1.481,"q":0.819},
{"p":85,"l":6,"a":1.527,"q":0.821},{"p":85,"l":6,"a":1.588,"q":0.825},{"p":85,"l":6,"a":1.591,"q":0.819},{"p":85,"l":6,"a":1.563,"q":0.818},
{"p":86,"l":6,"a":1.62,"q":0.834},{"p":86,"l":6,"a":1.634,"q":0.836},{"p":86,"l":6,"a":1.627,"q":0.828},{"p":86,"l":6,"a":1.638,"q":0.818},{"p":86,"l":6,"a":1.62,"q":0.818},{"p":86,"l":6,"a":1.616,"q":0.823},
{"p":87,"l":5,"a":1.037,"q":0.808},{"p":87,"l":5,"a":1.08,"q":0.806},{"p":87,"l":5,"a":1.055,"q":0.802},
{"p":88,"l":7,"a":0.994,"q":0.805},{"p":88,"l":7,"a":1.051,"q":0.802},{"p":88,"l":7,"a":1.062,"q":0.792},{"p":88,"l":7,"a":1.08,"q":0.789},{"p":88,"l":7,"a":1.001,"q":0.786},{"p":88,"l":7,"a":0.966,"q":0.79},
{"p":89,"l":4,"a":0.802,"q":0.831},{"p":89,"l":4,"a":0.859,"q":0.839},{"p":89,"l":4,"a":0.895,"q":0.834},{"p":89,"l":4,"a":0.841,"q":0.827},
{"p":90,"l":6,"a":0.918,"q":0.84},{"p":90,"l":6,"a":0.93,"q":0.844},{"p":90,"l":6,"a":0.942,"q":0.84},{"p":90,"l":6,"a":0.93,"q":0.836},
{"p":91,"l":6,"a":0.961,"q":0.841},{"p":91,"l":6,"a":0.973,"q":0.845},{"p":91,"l":6,"a":0.985,"q":0.841},{"p":91,"l":6,"a":0.973,"q":0.837},
{"p":92,"l":6,"a":1.068,"q":0.835},{"p":92,"l":6,"a":1.08,"q":0.839},{"p":92,"l":6,"a":1.092,"q":0.835},{"p":92,"l":6,"a":1.08,"q":0.831},
{"p":93,"l":6,"a":1.046,"q":0.826},{"p":93,"l":6,"a":1.058,"q":0.83},{"p":93,"l":6,"a":1.07,"q":0.826},{"p":93,"l":6,"a":1.058,"q":0.822},
{"p":94,"l":6,"a":0.957,"q":0.821},{"p":94,"l":6,"a":0.969,"q":0.825},{"p":94,"l":6,"a":0.981,"q":0.821},{"p":94,"l":6,"a":0.969,"q":0.817},
{"p":95,"l":6,"a":0.872,"q":0.809},{"p":95,"l":6,"a":0.884,"q":0.813},{"p":95,"l":6,"a":0.896,"q":0.809},{"p":95,"l":6,"a":0.884,"q":0.805},
{"p":96,"l":5,"a":0.94,"q":0.8},{"p":96,"l":5,"a":0.952,"q":0.804},{"p":96,"l":5,"a":0.964,"q":0.8},{"p":96,"l":5,"a":0.952,"q":0.796},
{"p":97,"l":5,"a":1.004,"q":0.795},{"p":97,"l":5,"a":1.016,"q":0.799},{"p":97,"l":5,"a":1.028,"q":0.795},{"p":97,"l":5,"a":1.016,"q":0.791},
{"p":98,"l":5,"a":0.936,"q":0.79},{"p":98,"l":5,"a":0.948,"q":0.794},{"p":98,"l":5,"a":0.96,"q":0.79},{"p":98,"l":5,"a":0.948,"q":0.786},
{"p":99,"l":5,"a":1.132,"q":0.81},{"p":99,"l":5,"a":1.144,"q":0.814},{"p":99,"l":5,"a":1.156,"q":0.81},{"p":99,"l":5,"a":1.144,"q":0.806},
{"p":100,"l":5,"a":1.267,"q":0.811},{"p":100,"l":5,"a":1.279,"q":0.815},{"p":100,"l":5,"a":1.291,"q":0.811},{"p":100,"l":5,"a":1.279,"q":0.807},
{"p":101,"l":5,"a":1.114,"q":0.82},{"p":101,"l":5,"a":1.126,"q":0.824},{"p":101,"l":5,"a":1.138,"q":0.82},{"p":101,"l":5,"a":1.126,"q":0.816},
{"p":102,"l":6,"a":1.373,"q":0.816},{"p":102,"l":6,"a":1.385,"q":0.82},{"p":102,"l":6,"a":1.397,"q":0.816},{"p":102,"l":6,"a":1.385,"q":0.812},
{"p":103,"l":6,"a":1.419,"q":0.81},{"p":103,"l":6,"a":1.431,"q":0.813},{"p":103,"l":6,"a":1.443,"q":0.81},{"p":103,"l":6,"a":1.431,"q":0.807},
{"p":104,"l":6,"a":1.743,"q":0.825},{"p":104,"l":6,"a":1.755,"q":0.829},{"p":104,"l":6,"a":1.767,"q":0.825},{"p":104,"l":6,"a":1.755,"q":0.821},
{"p":105,"l":6,"a":1.065,"q":0.845},{"p":105,"l":6,"a":1.094,"q":0.849},{"p":105,"l":6,"a":1.122,"q":0.846},{"p":105,"l":6,"a":1.094,"q":0.842},
{"p":106,"l":6,"a":1.193,"q":0.845},{"p":106,"l":6,"a":1.229,"q":0.849},{"p":106,"l":6,"a":1.264,"q":0.845},{"p":106,"l":6,"a":1.229,"q":0.842},
{"p":107,"l":5,"a":2.195,"q":0.889},{"p":107,"l":5,"a":2.234,"q":0.89},{"p":107,"l":5,"a":2.216,"q":0.886},
{"p":108,"l":5,"a":2.123,"q":0.89},{"p":108,"l":5,"a":2.141,"q":0.89},{"p":108,"l":5,"a":2.134,"q":0.886},
{"p":109,"l":5,"a":1.91,"q":0.882},{"p":109,"l":5,"a":1.946,"q":0.883},{"p":109,"l":5,"a":1.924,"q":0.881},
{"p":110,"l":5,"a":2.586,"q":0.898},{"p":110,"l":5,"a":2.657,"q":0.9},{"p":110,"l":5,"a":2.65,"q":0.895},{"p":110,"l":5,"a":2.635,"q":0.896},{"p":110,"l":5,"a":2.614,"q":0.895},
{"p":111,"l":5,"a":2.863,"q":0.905},{"p":111,"l":5,"a":2.927,"q":0.904},{"p":111,"l":5,"a":2.913,"q":0.901},{"p":111,"l":5,"a":2.891,"q":0.902},
{"p":112,"l":4,"a":2.344,"q":0.896},{"p":112,"l":4,"a":2.372,"q":0.896},{"p":112,"l":4,"a":2.376,"q":0.891},{"p":112,"l":4,"a":2.362,"q":0.891},
{"p":113,"l":4,"a":2.084,"q":0.89},{"p":113,"l":4,"a":2.106,"q":0.89},{"p":113,"l":4,"a":2.099,"q":0.886},
{"p":114,"l":4,"a":2.824,"q":0.907},{"p":114,"l":4,"a":2.856,"q":0.908},{"p":114,"l":4,"a":2.834,"q":0.905},
{"p":115,"l":4,"a":1.1,"q":0.866},{"p":115,"l":4,"a":1.144,"q":0.863},{"p":115,"l":4,"a":1.129,"q":0.859},
{"p":116,"l":5,"a":1.63,"q":0.873},{"p":116,"l":5,"a":1.663,"q":0.873},{"p":116,"l":5,"a":1.641,"q":0.87},
{"p":117,"l":5,"a":1.719,"q":0.878},{"p":117,"l":5,"a":1.84,"q":0.877},{"p":117,"l":5,"a":1.783,"q":0.876},
{"p":118,"l":5,"a":1.435,"q":0.873},{"p":118,"l":5,"a":1.57,"q":0.873},{"p":118,"l":5,"a":1.499,"q":0.871},
{"p":119,"l":5,"a":1.271,"q":0.869},{"p":119,"l":5,"a":1.378,"q":0.87},{"p":119,"l":5,"a":1.371,"q":0.866},
{"p":120,"l":5,"a":0.987,"q":0.862},{"p":120,"l":5,"a":1.08,"q":0.865},{"p":120,"l":5,"a":1.094,"q":0.861},{"p":120,"l":5,"a":1.001,"q":0.86},
{"p":121,"l":6,"a":2.394,"q":0.887},{"p":121,"l":6,"a":2.443,"q":0.891},{"p":121,"l":6,"a":2.472,"q":0.89},{"p":121,"l":6,"a":2.429,"q":0.886},
{"p":122,"l":6,"a":2.65,"q":0.892},{"p":122,"l":6,"a":2.728,"q":0.894},{"p":122,"l":6,"a":2.728,"q":0.891},{"p":122,"l":6,"a":2.65,"q":0.889},
{"p":123,"l":4,"a":0.8,"q":0.861},{"p":123,"l":4,"a":0.875,"q":0.861},{"p":123,"l":4,"a":0.88,"q":0.857},{"p":123,"l":4,"a":0.8,"q":0.857},
{"p":146,"l":6,"a":0.802,"q":0.808},{"p":146,"l":6,"a":0.852,"q":0.8},{"p":146,"l":6,"a":0.838,"q":0.794},{"p":146,"l":6,"a":0.802,"q":0.795},
{"p":147,"l":8,"a":1.62,"q":0.811},{"p":147,"l":8,"a":1.67,"q":0.811},{"p":147,"l":8,"a":1.705,"q":0.805},{"p":147,"l":8,"a":1.67,"q":0.8},{"p":147,"l":8,"a":1.606,"q":0.795},{"p":147,"l":8,"a":1.563,"q":0.795},{"p":147,"l":8,"a":1.62,"q":0.8},
{"p":148,"l":8,"a":1.318,"q":0.796},{"p":148,"l":8,"a":1.35,"q":0.8},{"p":148,"l":8,"a":1.378,"q":0.796},{"p":148,"l":8,"a":1.407,"q":0.8},{"p":148,"l":8,"a":1.41,"q":0.79},{"p":148,"l":8,"a":1.318,"q":0.79},
{"p":124,"l":8,"a":1.225,"q":0.871},{"p":124,"l":8,"a":1.458,"q":0.871},{"p":124,"l":8,"a":1.458,"q":0.874},{"p":124,"l":8,"a":1.225,"q":0.874},
{"p":125,"l":8,"a":1.458,"q":0.875},{"p":125,"l":8,"a":1.65,"q":0.875},{"p":125,"l":8,"a":1.65,"q":0.88},{"p":125,"l":8,"a":1.458,"q":0.88},
{"p":126,"l":8,"a":1.675,"q":0.879},{"p":126,"l":8,"a":1.878,"q":0.879},{"p":126,"l":8,"a":1.878,"q":0.884},{"p":126,"l":8,"a":1.675,"q":0.884},
{"p":127,"l":8,"a":1.878,"q":0.885},{"p":127,"l":8,"a":2.11,"q":0.885},{"p":127,"l":8,"a":2.11,"q":0.89},{"p":127,"l":8,"a":1.878,"q":0.89},
{"p":128,"l":8,"a":2.134,"q":0.89},{"p":128,"l":8,"a":2.375,"q":0.89},{"p":128,"l":8,"a":2.375,"q":0.895},{"p":128,"l":8,"a":2.134,"q":0.895},
{"p":129,"l":8,"a":2.39,"q":0.895},{"p":129,"l":8,"a":2.59,"q":0.895},{"p":129,"l":8,"a":2.59,"q":0.9},{"p":129,"l":8,"a":2.39,"q":0.9},
{"p":130,"l":8,"a":2.59,"q":0.9},{"p":130,"l":8,"a":2.84,"q":0.9},{"p":130,"l":8,"a":2.84,"q":0.905},{"p":130,"l":8,"a":2.59,"q":0.905},
{"p":131,"l":8,"a":2.857,"q":0.905},{"p":131,"l":8,"a":3,"q":0.905},{"p":131,"l":8,"a":3,"q":0.91},{"p":131,"l":8,"a":2.857,"q":0.91},
{"p":132,"l":8,"a":0.8,"q":0.856},{"p":132,"l":8,"a":0.898,"q":0.856},{"p":132,"l":8,"a":0.898,"q":0.865},{"p":132,"l":8,"a":1.13,"q":0.865},{"p":132,"l":8,"a":1.147,"q":0.866},{"p":132,"l":8,"a":1.38,"q":0.866},{"p":132,"l":8,"a":1.396,"q":0.87},{"p":132,"l":8,"a":1.652,"q":0.87},{"p":132,"l":8,"a":1.668,"q":0.874},{"p":132,"l":8,"a":1.893,"q":0.874},{"p":132,"l":8,"a":1.924,"q":0.88},{"p":132,"l":8,"a":2.173,"q":0.88},{"p":132,"l":8,"a":2.196,"q":0.885},{"p":132,"l":8,"a":2.468,"q":0.885},{"p":132,"l":8,"a":2.484,"q":0.89},{"p":132,"l":8,"a":2.733,"q":0.89},{"p":132,"l":8,"a":2.764,"q":0.895},{"p":132,"l":8,"a":3,"q":0.895},{"p":132,"l":8,"a":3,"q":0.882},{"p":132,"l":8,"a":2.904,"q":0.88},{"p":132,"l":8,"a":2.624,"q":0.88},{"p":132,"l":8,"a":2.608,"q":0.875},{"p":132,"l":8,"a":2.36,"q":0.875},{"p":132,"l":8,"a":2.329,"q":0.87},{"p":132,"l":8,"a":2.08,"q":0.87},{"p":132,"l":8,"a":2.049,"q":0.865},{"p":132,"l":8,"a":1.8,"q":0.865},{"p":132,"l":8,"a":1.784,"q":0.86},{"p":132,"l":8,"a":1.528,"q":0.86},{"p":132,"l":8,"a":1.52,"q":0.855},{"p":132,"l":8,"a":1.255,"q":0.855},{"p":132,"l":8,"a":1.24,"q":0.85},{"p":132,"l":8,"a":0.8,"q":0.849},
{"p":133,"l":3,"a":0.87,"q":0.85},{"p":133,"l":3,"a":0.966,"q":0.85},{"p":133,"l":3,"a":0.975,"q":0.856},{"p":133,"l":3,"a":0.885,"q":0.856},
{"p":134,"l":3,"a":0.998,"q":0.85},{"p":134,"l":3,"a":1.05,"q":0.85},{"p":134,"l":3,"a":1.058,"q":0.856},{"p":134,"l":3,"a":1.01,"q":0.856},
{"p":135,"l":3,"a":1.13,"q":0.8555},{"p":135,"l":3,"a":1.235,"q":0.8555},{"p":135,"l":3,"a":1.243,"q":0.86},{"p":135,"l":3,"a":1.15,"q":0.86},
{"p":136,"l":3,"a":1.4,"q":0.86},{"p":136,"l":3,"a":1.51,"q":0.86},{"p":136,"l":3,"a":1.52,"q":0.8655},{"p":136,"l":3,"a":1.42,"q":0.8655},
{"p":137,"l":2,"a":1.43,"q":0.86},{"p":137,"l":2,"a":1.47,"q":0.86},{"p":137,"l":2,"a":1.475,"q":0.8655},{"p":137,"l":2,"a":1.44,"q":0.8655},
{"p":138,"l":3,"a":1.648,"q":0.8645},{"p":138,"l":3,"a":1.745,"q":0.8645},{"p":138,"l":3,"a":1.755,"q":0.87},{"p":138,"l":3,"a":1.665,"q":0.87},
{"p":139,"l":3,"a":1.92,"q":0.87},{"p":139,"l":3,"a":2.03,"q":0.87},{"p":139,"l":3,"a":2.038,"q":0.8755},{"p":139,"l":3,"a":1.935,"q":0.8755},
{"p":140,"l":2,"a":1.93,"q":0.87},{"p":140,"l":2,"a":1.99,"q":0.87},{"p":140,"l":2,"a":1.995,"q":0.8755},{"p":140,"l":2,"a":1.94,"q":0.8755},
{"p":141,"l":3,"a":2.177,"q":0.875},{"p":141,"l":3,"a":2.29,"q":0.875},{"p":141,"l":3,"a":2.301,"q":0.8805},{"p":141,"l":3,"a":2.2,"q":0.8805},
{"p":142,"l":2,"a":2.22,"q":0.875},{"p":142,"l":2,"a":2.29,"q":0.875},{"p":142,"l":2,"a":2.3,"q":0.8805},{"p":142,"l":2,"a":2.23,"q":0.8805},
{"p":143,"l":2,"a":2.461,"q":0.88},{"p":143,"l":2,"a":2.585,"q":0.88},{"p":143,"l":2,"a":2.593,"q":0.8855},{"p":143,"l":2,"a":2.48,"q":0.8855},
{"p":144,"l":2,"a":2.742,"q":0.885},{"p":144,"l":2,"a":2.865,"q":0.885},{"p":144,"l":2,"a":2.873,"q":0.89},{"p":144,"l":2,"a":2.77,"q":0.89},
{"p":145,"l":8,"a":0.8,"q":0.872},{"p":145,"l":8,"a":1,"q":0.8715},{"p":145,"l":8,"a":1.225,"q":0.873},{"p":145,"l":8,"a":1.225,"q":0.8715},{"p":145,"l":8,"a":1,"q":0.87},{"p":145,"l":8,"a":0.8,"q":0.87}
]},
"hconcat":[
{"width":1223,"height":1067,
"title":{"text":"(a)","orient":"bottom","fontSize":72,"offset":106,"dx":-37},
"layer":[
{"data":{"name":"pa"},"transform":[{"window":[{"op":"row_number","as":"s"}]}],"mark":{"type":"line","interpolate":"linear-closed","stroke":"#000000","strokeWidth":3.5,"clip":true},
"encoding":{
"x":{"field":"a","type":"quantitative","scale":{"domain":[0.8,3],"nice":false,"zero":false},"axis":{"orient":"bottom","zindex":1,"title":"a₁","titleFontSize":56,"titlePadding":-19,"values":[0.8,1,1.5,2,2.5,3],"format":"~g","labelFontSize":38,"tickSize":-14,"tickWidth":2,"labelPadding":40,"domainWidth":4.5,"labelFlush":false}},
"y":{"field":"q","type":"quantitative","scale":{"domain":[0.5,1],"nice":false,"zero":false},"axis":{"orient":"left","zindex":1,"title":"q","titleFontSize":48,"titlePadding":14,"values":[0.5,0.55,0.6,0.65,0.7,0.75,0.8,0.85,0.9,0.95,1],"format":"~g","labelFontSize":38,"tickSize":-12,"tickWidth":2.5,"labelPadding":18,"domainWidth":2.5}},
"detail":{"field":"p"},
"fill":{"field":"l","type":"ordinal","scale":{"domain":[1,2,3,4,5,6,7,8],"range":["#ffffff","#ffff99","#ffff00","#ff6a00","#ff0000","#a00000","#550000","#0a0000"]},"legend":null},
"order":{"field":"s","type":"quantitative"}}},
{"data":{"name":"pa"},"mark":{"type":"line","opacity":0},
"encoding":{
"x":{"field":"a","type":"quantitative","axis":{"orient":"top","zindex":1,"title":null,"labels":false,"values":[0.8,1,1.5,2,2.5,3],"tickSize":-14,"tickWidth":2,"domainWidth":4.5}},
"y":{"field":"q","type":"quantitative","axis":{"orient":"right","zindex":1,"title":null,"labels":false,"values":[0.5,0.55,0.6,0.65,0.7,0.75,0.8,0.85,0.9,0.95,1],"tickSize":-12,"tickWidth":2.5,"domainWidth":2.5}},
"detail":{"field":"p"}}}
],
"resolve":{"axis":{"x":"independent","y":"independent"}}},
{"width":1225,"height":1060,
"title":{"text":"(b)","orient":"bottom","fontSize":72,"offset":90,"dx":-35},
"layer":[
{"data":{"name":"pb"},"transform":[{"window":[{"op":"row_number","as":"s"}]}],"mark":{"type":"line","interpolate":"linear-closed","stroke":"#000000","strokeWidth":3,"clip":true},
"encoding":{
"x":{"field":"a","type":"quantitative","scale":{"domain":[0,1.7],"nice":false,"zero":false},"axis":{"orient":"bottom","zindex":1,"title":"a₂","titleFontSize":42,"titlePadding":20,"values":[0,0.2,0.4,0.6,0.8,1,1.2,1.4,1.6,1.7],"format":"~g","labelFontSize":32,"tickSize":-14,"tickWidth":2,"labelPadding":40,"domainWidth":4.5}},
"y":{"field":"q","type":"quantitative","scale":{"domain":[0.5,1],"nice":false,"zero":false},"axis":{"orient":"left","zindex":1,"title":"q","titleFontSize":38,"titlePadding":26,"values":[0.5,0.55,0.6,0.65,0.7,0.75,0.8,0.85,0.9,0.95,1],"format":"~g","labelFontSize":34,"tickSize":-12,"tickWidth":2.5,"labelPadding":18,"domainWidth":2.5}},
"detail":{"field":"p"},
"fill":{"field":"l","type":"ordinal","scale":{"domain":[1,2,3,4,5,6,7],"range":["#ffff60","#ffe800","#ff8800","#ff2800","#e80000","#780000","#0a0000"]},"legend":null},
"order":{"field":"s","type":"quantitative"}}},
{"data":{"name":"mask"},"transform":[{"window":[{"op":"row_number","as":"s"}]}],"mark":{"type":"line","interpolate":"linear-closed","fill":"#ffffff","strokeWidth":0},
"encoding":{
"x":{"field":"a","type":"quantitative","axis":{"orient":"top","zindex":1,"title":null,"labels":false,"values":[0,0.2,0.4,0.6,0.8,1,1.2,1.4,1.6,1.7],"tickSize":-14,"tickWidth":2,"domainWidth":4.5}},
"y":{"field":"q","type":"quantitative","axis":{"orient":"right","zindex":1,"title":null,"labels":false,"values":[0.5,0.55,0.6,0.65,0.7,0.75,0.8,0.85,0.9,0.95,1],"tickSize":-12,"tickWidth":2.5,"domainWidth":2.5}},
"detail":{"field":"p"},"order":{"field":"s","type":"quantitative"}}}
],
"resolve":{"axis":{"x":"independent","y":"independent"}}}
]}
